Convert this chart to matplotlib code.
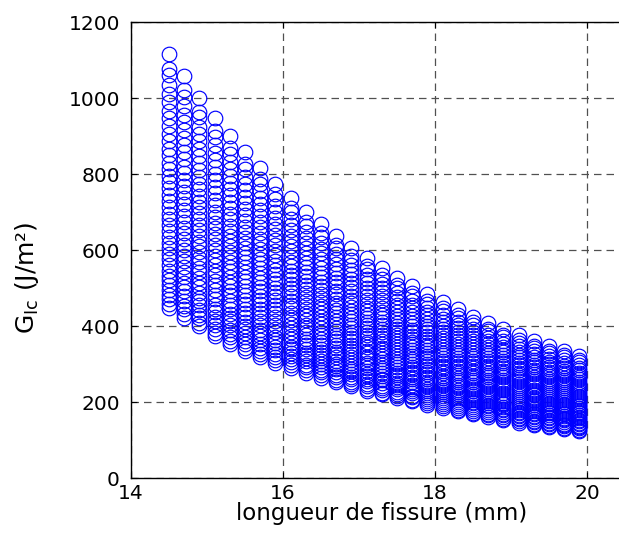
"""
G_Ic en fonction de la longueur de fissure (nuage de points par colonne)
sortie : out.png
"""

import matplotlib
matplotlib.use("Agg")
import matplotlib.pyplot as plt

# ==================== données ====================
# longueur de fissure (mm), une colonne de cercles par valeur
crack_len = [14.5, 14.7, 14.9, 15.1, 15.3, 15.5, 15.7, 15.9, 16.1, 16.3,
             16.5, 16.7, 16.9, 17.1, 17.3, 17.5, 17.7, 17.9, 18.1, 18.3,
             18.5, 18.7, 18.9, 19.1, 19.3, 19.5, 19.7, 19.9]

# valeur max de G_Ic dans chaque colonne (J/m²)
g_top = [1117, 1058, 1000, 947, 900, 858, 817, 775, 737, 700,
         668, 637, 606, 579, 553, 527, 504, 483, 464, 445,
         425, 408, 391, 376, 361, 347, 335, 322]

# valeur min de G_Ic dans chaque colonne (J/m²)
g_bottom = [448, 422, 400, 373, 352, 334, 318, 303, 290, 277,
            264, 252, 241, 230, 220, 211, 202, 193, 185, 176,
            168, 161, 153, 146, 140, 134, 129, 124]

# position relative des cercles dans une colonne (0 = bas, 1 = haut)
level_frac = [0.00, 0.015, 0.035, 0.05, 0.07, 0.09, 0.11, 0.125, 0.145, 0.17,
              0.19, 0.21, 0.235, 0.255, 0.28, 0.30, 0.325, 0.35, 0.37, 0.395,
              0.42, 0.445, 0.47, 0.495, 0.52, 0.545, 0.57, 0.60, 0.625, 0.655,
              0.685, 0.715, 0.745, 0.775, 0.81, 0.84, 0.875, 0.915, 0.94, 1.00]

# ==================== style ====================
plt.rcParams['font.family'] = ['DejaVu Sans']
plt.rcParams['mathtext.fontset'] = 'dejavusans'

xs, ys = [], []
for a, hi, lo in zip(crack_len, g_top, g_bottom):
    for f in level_frac:
        xs.append(a)
        ys.append(lo + f * (hi - lo))

# ==================== figure ====================
fig = plt.figure(figsize=(6.19, 5.48), dpi=100)
ax = fig.add_axes([131 / 619, 70 / 548, 532 / 619, 456 / 548])

ax.plot(xs, ys, 'o', mfc='none', mec='#0000FF', ms=10.5, mew=0.85,
        linestyle='none', zorder=3)

ax.set_xlim(14, 21)
ax.set_ylim(0, 1200)
ax.set_xticks([14, 16, 18, 20])
ax.set_yticks(range(0, 1201, 200))

ax.grid(True, linestyle=(0, (6, 4)), color='#505050', linewidth=0.9)
ax.set_axisbelow(True)

for sp in ax.spines.values():
    sp.set_linewidth(1.0)

ax.tick_params(direction='in', top=True, right=True, length=4, width=0.8,
               labelsize=14.5)
ax.tick_params(axis='x', pad=4)
ax.tick_params(axis='y', pad=8)

ax.set_xlabel('longueur de fissure (mm)', fontsize=16.5)
ax.xaxis.set_label_coords(0.472, -0.052)
ax.set_ylabel(r'G$_{\mathrm{Ic}}$ (J/m²)', fontsize=18)
ax.yaxis.set_label_coords(-0.17, 0.44)

plt.savefig("out.png", dpi=100)
plt.close()
